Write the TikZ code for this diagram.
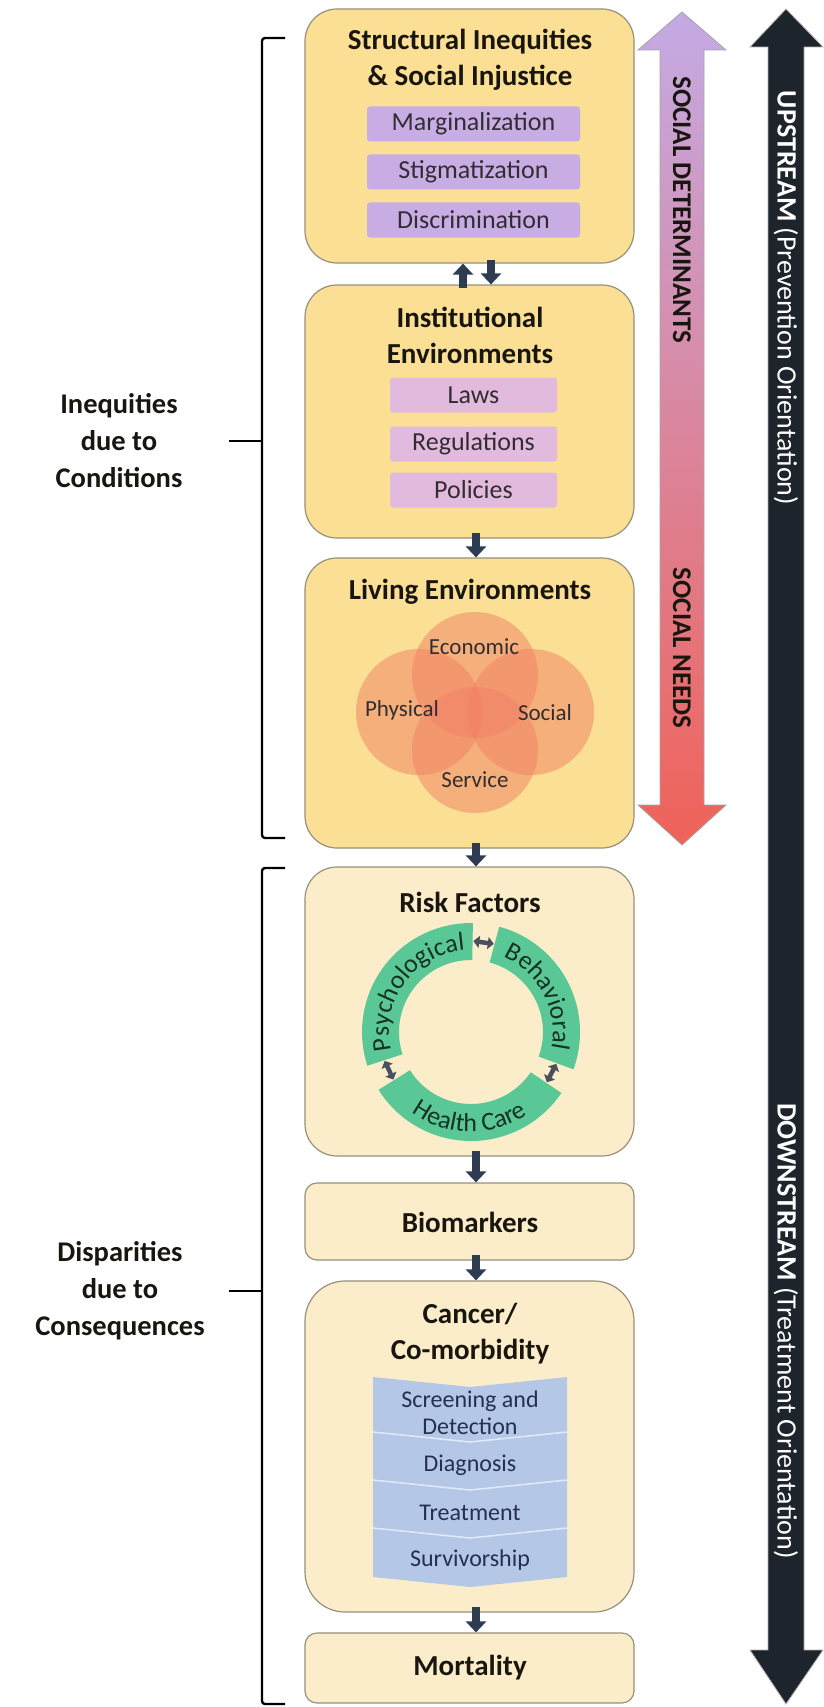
\documentclass[tikz,border=0pt]{standalone}
\usepackage{fontspec}
\setmainfont{Carlito}
\usetikzlibrary{arrows.meta,decorations.text,calc}

\definecolor{goldfill}{RGB}{250,223,148}
\definecolor{creamfill}{RGB}{252,237,202}
\definecolor{boxline}{RGB}{150,145,122}
\definecolor{purpitem}{RGB}{200,172,228}
\definecolor{pinkitem}{RGB}{226,186,222}
\definecolor{circfill}{RGB}{242,128,100}
\definecolor{ringgreen}{RGB}{90,200,150}
\definecolor{ringtext}{RGB}{22,50,35}
\definecolor{chevblue}{RGB}{180,199,231}
\definecolor{chevsep}{RGB}{222,232,246}
\definecolor{navytext}{RGB}{35,48,82}
\definecolor{arrownavy}{RGB}{46,60,82}
\definecolor{darkarrow}{RGB}{30,36,44}
\definecolor{gradtop}{RGB}{196,170,228}
\definecolor{gradmid}{RGB}{238,184,204}
\definecolor{gradbot}{RGB}{240,98,88}
\definecolor{titletext}{RGB}{25,22,15}
\definecolor{itemtext}{RGB}{50,45,50}
\definecolor{gaparrowc}{RGB}{72,80,96}

\begin{document}
\begin{tikzpicture}[x=1pt,y=1pt,
  goldbox/.style={draw=boxline, fill=goldfill, line width=1.2pt, rounded corners=32pt, minimum width=329pt, inner sep=0pt},
  creambox/.style={goldbox, fill=creamfill},
  ttl/.style={font=\fontsize{29}{36}\selectfont\bfseries, text=titletext, align=center, inner sep=0pt},
  sidelabel/.style={font=\fontsize{28.5}{37}\selectfont\bfseries, text=titletext, align=center, inner sep=0pt},
  purpleitem/.style={fill=purpitem, rounded corners=3pt, minimum width=213pt, minimum height=35pt, inner sep=0pt, font=\fontsize{26}{30}\selectfont, text=itemtext},
  pinkitembox/.style={purpleitem, fill=pinkitem, minimum width=167pt},
  venn/.style={circle, fill=circfill, fill opacity=0.5, minimum size=126pt, inner sep=0pt},
  vennlabel/.style={font=\fontsize{23}{28}\selectfont, text=itemtext, inner sep=0pt},
  chevtext/.style={font=\fontsize{24}{27}\selectfont, text=navytext, align=center, inner sep=0pt},
  blockarrow/.style={draw=arrownavy, line width=8pt, -{Triangle[width=20pt,length=11pt]}},
  gaparrow/.style={draw=gaparrowc, line width=4.5pt, {Triangle[width=12pt,length=6pt]}-{Triangle[width=12pt,length=6pt]}},
  bracket/.style={draw=black, line width=2.4pt, rounded corners=3pt},
  vtext/.style={rotate=-90, inner sep=0pt},
]
\useasboundingbox (0,0) rectangle (823,-1707);
\fill[white] (0,0) rectangle (823,-1707);

% ---------- right-hand arrows ----------
\shade[top color=gradtop, middle color=gradmid, bottom color=gradbot, draw=gray!70, line width=0.8pt]
  (682,-12) -- (726,-50) -- (704,-50) -- (704,-805) -- (726,-805) -- (682,-845)
  -- (638,-805) -- (660,-805) -- (660,-50) -- (638,-50) -- cycle;
\node[vtext, font=\fontsize{27}{30}\selectfont\bfseries, text=titletext] (sdet) at (682,-210) {SOCIAL DETERMINANTS};
\node[vtext, font=\fontsize{27}{30}\selectfont\bfseries, text=titletext] (sneed) at (682,-648) {SOCIAL NEEDS};

\fill[darkarrow, draw=gray!60, line width=0.8pt]
  (786,-9) -- (823,-47) -- (804,-47) -- (804,-1650) -- (823,-1650) -- (786,-1704)
  -- (750,-1650) -- (768,-1650) -- (768,-47) -- (750,-47) -- cycle;
\node[vtext, font=\fontsize{28}{30}\selectfont, text=white] (ups) at (786,-298) {\textbf{UPSTREAM} (Prevention Orientation)};
\node[vtext, font=\fontsize{28}{30}\selectfont, text=white] (downs) at (786,-1331) {\textbf{DOWNSTREAM} (Treatment Orientation)};

% ---------- boxes ----------
\node[goldbox, minimum height=254pt] (b1) at (469.5,-136) {};
\node[goldbox, minimum height=253pt] (b2) at (469.5,-411.5) {};
\node[goldbox, minimum height=290pt] (b3) at (469.5,-703) {};
\node[creambox, minimum height=289pt] (b4) at (469.5,-1011.5) {};
\node[creambox, minimum height=77pt, rounded corners=12pt] (b5) at (469.5,-1221.5) {};
\node[creambox, minimum height=331pt, rounded corners=40pt] (b6) at (469.5,-1446.5) {};
\node[creambox, minimum height=70pt, rounded corners=12pt] (b7) at (469.5,-1668) {};

% box 1
\node[ttl] (t1) at (470,-60) {Structural Inequities\\\& Social Injustice};
\node[purpleitem] (marg) at (473.5,-124) {Marginalization};
\node[purpleitem] (stig) at (473.5,-172) {Stigmatization};
\node[purpleitem] (disc) at (473.5,-220) {Discrimination};

% box 2
\node[ttl] (t2) at (470,-335) {Institutional\\Environments};
\node[pinkitembox] (laws) at (473.5,-395) {Laws};
\node[pinkitembox] (regs) at (473.5,-444) {Regulations};
\node[pinkitembox] (pols) at (473.5,-490) {Policies};

% box 3
\node[ttl] (t3) at (470,-592) {Living Environments};
\node[venn] (econ) at (475,-675) {};
\node[venn] (phys) at (419,-712) {};
\node[venn] (soc) at (531,-712) {};
\node[venn] (serv) at (475,-750) {};
\node[vennlabel] (econl) at (474,-647) {Economic};
\node[vennlabel] (physl) at (402,-710) {Physical};
\node[vennlabel] (socl) at (545,-713) {Social};
\node[vennlabel] (servl) at (475,-780) {Service};

% box 4
\node[ttl] (t4) at (470,-902) {Risk Factors};
\begin{scope}[shift={(471,-1032)}]
  \fill[ringgreen] (89:109) arc[start angle=89,end angle=198,radius=109] -- (198:72) arc[start angle=198,end angle=89,radius=72] -- cycle;
  \fill[ringgreen] (212:109) arc[start angle=212,end angle=326,radius=109] -- (326:72) arc[start angle=326,end angle=212,radius=72] -- cycle;
  \fill[ringgreen] (-20:109) arc[start angle=-20,end angle=75,radius=109] -- (75:72) arc[start angle=75,end angle=-20,radius=72] -- cycle;
  \path[decorate, decoration={text along path, text align=center, text color=ringtext,
      text={|\fontsize{26}{26}\selectfont|Psychological}}]
      (196:82) arc[start angle=196,end angle=91,radius=82];
  \path[decorate, decoration={text along path, text align=center, text color=ringtext,
      text={|\fontsize{26}{26}\selectfont|Behavioral}}]
      (74:82) arc[start angle=74,end angle=-19,radius=82];
  \path[decorate, decoration={text along path, text align=center, text color=ringtext,
      text={|\fontsize{26}{26}\selectfont|Health Care}}]
      (213:100) arc[start angle=213,end angle=325,radius=100];
  \coordinate (g1a) at (75.5:91); \coordinate (g1b) at (88.5:91);
  \coordinate (g2a) at (198.5:91); \coordinate (g2b) at (211.5:91);
  \coordinate (g3a) at (326.5:91); \coordinate (g3b) at (339.5:91);
  \draw[gaparrow] (g1a) -- (g1b);
  \draw[gaparrow] (g2a) -- (g2b);
  \draw[gaparrow] (g3a) -- (g3b);
\end{scope}

% box 5
\node[ttl] (t5) at (470,-1222) {Biomarkers};

% box 6
\node[ttl] (t6) at (470,-1334) {Cancer/\\Co-morbidity};
\fill[chevblue] (373,-1377) -- (470,-1387) -- (567,-1377) -- (567,-1577) -- (470,-1587) -- (373,-1577) -- cycle;
\draw[chevsep, line width=1.6pt] (373,-1432) -- (470,-1442) -- (567,-1432);
\draw[chevsep, line width=1.6pt] (373,-1480) -- (470,-1490) -- (567,-1480);
\draw[chevsep, line width=1.6pt] (373,-1528) -- (470,-1538) -- (567,-1528);
\node[chevtext] (scr) at (470,-1413) {Screening and\\Detection};
\node[chevtext] (diag) at (470,-1465) {Diagnosis};
\node[chevtext] (treat) at (470,-1513) {Treatment};
\node[chevtext] (surv) at (470,-1560) {Survivorship};

% box 7
\node[ttl] (t7) at (470,-1668) {Mortality};

% ---------- flow arrows ----------
\coordinate (upx) at (463,0);
\coordinate (dnx) at (491,0);
\coordinate (ax) at (476,0);
\draw[blockarrow] ([yshift=-4pt]b2.north -| upx) -- (b1.south -| upx);
\draw[blockarrow] ([yshift=4pt]b1.south -| dnx) -- (b2.north -| dnx);
\draw[blockarrow] ([yshift=6pt]b2.south -| ax) -- (b3.north -| ax);
\draw[blockarrow] ([yshift=6pt]b3.south -| ax) -- (b4.north -| ax);
\draw[blockarrow] ([yshift=6pt]b4.south -| ax) -- (b5.north -| ax);
\draw[blockarrow] ([yshift=6pt]b5.south -| ax) -- (b6.north -| ax);
\draw[blockarrow] ([yshift=6pt]b6.south -| ax) -- (b7.north -| ax);

% ---------- brackets ----------
\node[sidelabel] (lab1) at (119,-441) {Inequities\\due to\\Conditions};
\node[sidelabel] (lab2) at (120,-1291) {Disparities\\due to\\Consequences};
\draw[bracket] (285,-38) -- (262,-38) -- (262,-838) -- (285,-838);
\coordinate (tick1) at (229,-441);
\draw[bracket] (tick1) -- (262,-441);
\draw[bracket] (285,-868) -- (262,-868) -- (262,-1704) -- (285,-1704);
\coordinate (tick2) at (229,-1291);
\draw[bracket] (tick2) -- (262,-1291);
\end{tikzpicture}
\end{document}
